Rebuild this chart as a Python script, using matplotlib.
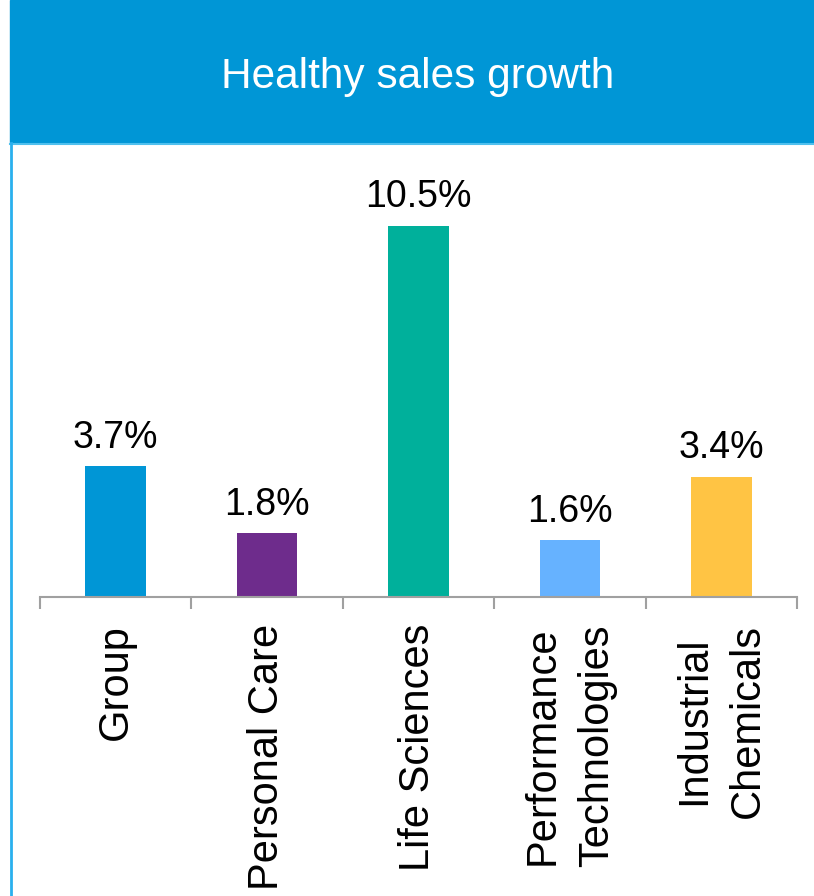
import numpy as np
import matplotlib.pyplot as plt
from matplotlib.patches import Rectangle
from matplotlib.lines import Line2D

plt.rcParams['font.family'] = ['Liberation Sans', 'DejaVu Sans']

categories = ["Group", "Personal Care", "Life Sciences",
              "Performance\nTechnologies", "Industrial\nChemicals"]
growth = [3.7, 1.8, 10.5, 1.6, 3.4]
labels = ["3.7%", "1.8%", "10.5%", "1.6%", "3.4%"]
colors = ["#0096D6", "#6E2C8C", "#00B09B", "#66B2FF", "#FFC444"]

W, H = 814, 896
fig = plt.figure(figsize=(W / 100, H / 100), dpi=100)

# header band
fig.patches.append(Rectangle((10 / W, 1 - 143 / H), 1 - 10 / W, 143 / H,
                             transform=fig.transFigure, color="#0096D6", zorder=0))
fig.lines.append(Line2D([10 / W, 1], [1 - 144 / H, 1 - 144 / H], transform=fig.transFigure,
                        color="#4FC0EE", lw=1.5))
fig.lines.append(Line2D([11 / W, 11 / W], [0, 1 - 143 / H], transform=fig.transFigure,
                        color="#29B0EE", lw=2))
fig.text(418 / W, 1 - 77 / H, "Healthy sales growth", color="white",
         fontsize=30.5, ha="center", va="center")

ax = fig.add_axes([40 / W, 1 - 597 / H, 757 / W, 447 / H])
x = np.arange(len(categories))
ax.bar(x, growth, width=0.4, color=colors)
for xi, v, t in zip(x, growth, labels):
    ax.annotate(t, (xi, v), xytext=(0, 13.5), textcoords="offset points",
                ha="center", va="baseline", fontsize=27)

ax.set_xlim(-0.5, 4.5)
ax.set_ylim(0, 12.65)
for s in ["top", "right", "left"]:
    ax.spines[s].set_visible(False)
ax.spines["bottom"].set_color("#A0A0A0")
ax.spines["bottom"].set_linewidth(1.5)
ax.set_yticks([])
ax.set_xticks(x)
ax.set_xticks(np.arange(-0.5, 5, 1), minor=True)
ax.tick_params(axis="x", which="major", length=0, pad=19.5)
ax.tick_params(axis="x", which="minor", length=8.6, width=1.5, color="#A0A0A0")
ax.set_xticklabels(categories, rotation=90, fontsize=30, va="top", ha="center",
                   multialignment="center", linespacing=1.45)

fig.savefig("out.png", dpi=100)
